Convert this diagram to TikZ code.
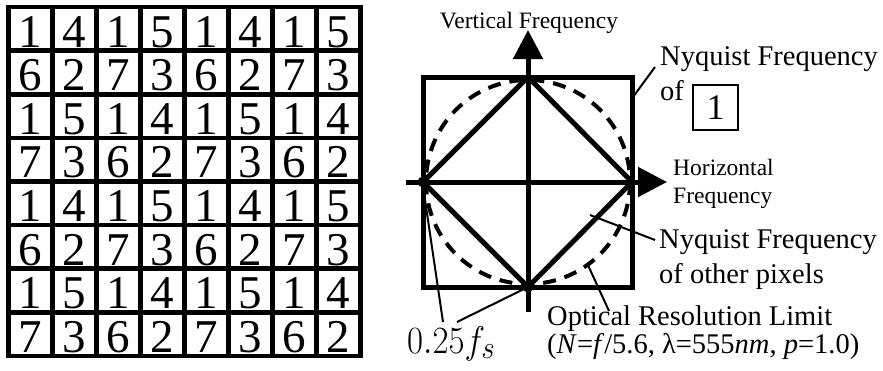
\documentclass[tikz,border=0pt]{standalone}
\usepackage{fontspec}
\setmainfont{Liberation Serif}
\usetikzlibrary{arrows.meta}
\begin{document}
\begin{tikzpicture}[x=1pt,y=-1pt,
  gridline/.style={line width=4.6pt},
  digit/.style={font=\fontsize{47}{47}\selectfont, inner sep=0pt, anchor=base},
  thickline/.style={line width=5pt},
  axisline/.style={line width=5pt, -{Triangle[length=29pt,width=29pt]}},
  circdash/.style={line width=4pt, dash pattern=on 13pt off 9pt},
  lbl/.style={font=\fontsize{28.5}{30}\selectfont, inner sep=0pt, anchor=base west},
  smalllbl/.style={font=\fontsize{23.5}{25}\selectfont, inner sep=0pt, anchor=base west},
  leader/.style={line width=2pt},
]
\useasboundingbox (0,0) rectangle (883,370);
% grid
\draw[gridline] (8.5,7) rectangle (360.5,356);
\foreach \i in {1,...,7} {
  \draw[gridline] ({8.5+44*\i},7) -- ({8.5+44*\i},356);
  \draw[gridline] (8.5,{7+43.625*\i}) -- (360.5,{7+43.625*\i});
}
\foreach \row [count=\r from 0] in {{1,4,1,5,1,4,1,5},{6,2,7,3,6,2,7,3},{1,5,1,4,1,5,1,4},{7,3,6,2,7,3,6,2},{1,4,1,5,1,4,1,5},{6,2,7,3,6,2,7,3},{1,5,1,4,1,5,1,4},{7,3,6,2,7,3,6,2}} {
  \foreach \d [count=\c from 0] in \row {
    \node[digit] (d\r\c) at ({8.5+44*\c+22},{7+43.625*\r+40}) {\d};
  }
}
% frequency diagram
\coordinate (C) at (528,182);
\coordinate (T) at (528,77);
\coordinate (R) at (632,182);
\coordinate (B) at (528,287);
\coordinate (L) at (423,182);
\draw[thickline] (423,77) rectangle (632,287);
\draw[circdash] (C) circle[radius=102];
\draw[thickline, line join=miter] (T) -- (R) -- (B) -- (L) -- cycle;
\coordinate (vs) at (528,312);
\coordinate (ve) at (528,30);
\coordinate (hs) at (406,182);
\coordinate (he) at (667,182);
\draw[axisline] (vs) -- (ve);
\draw[axisline] (hs) -- (he);
\fill (L) circle[radius=5.5];
\fill (B) circle[radius=5.5];
% labels
\node[smalllbl, anchor=base] (vf) at (529,28) {Vertical Frequency};
\node[lbl] (nq1) at (660,65) {Nyquist Frequency};
\node[lbl] (of1) at (660,100) {of};
\node[draw, line width=1.3pt, minimum size=45pt, inner sep=0pt, font=\fontsize{36}{36}\selectfont] (one) at (715.5,107.5) {1};
\node[smalllbl] (hz1) at (673,175) {Horizontal};
\node[smalllbl] (hz2) at (673,203) {Frequency};
\node[lbl] (nq2) at (659,248) {Nyquist Frequency};
\node[lbl] (nq3) at (659,283) {of other pixels};
\node[lbl] (orl1) at (547,325) {Optical Resolution Limit};
\node[lbl] (orl2) at (547,353) {(\textit{N}=\textit{f}/5.6, λ=555\textit{nm}, \textit{p}=1.0)};
\node[inner sep=0pt, anchor=base west, font=\fontsize{24.88}{30}\selectfont] (fs) at (407,353) {\scalebox{1.4}[1.55]{$0.25f_s$}};
% leaders
\coordinate (a1) at (633,97);
\coordinate (a2) at (655,67);
\draw[leader] (a1) -- (a2);
\coordinate (b1) at (590,215);
\coordinate (b2) at (655,240);
\draw[leader] (b1) -- (b2);
\coordinate (c1) at (587,263);
\coordinate (c2) at (609,311);
\draw[leader] (c1) -- (c2);
\coordinate (e1) at (424,193);
\coordinate (e2) at (443,322);
\draw[leader] (e1) -- (e2);
\coordinate (g2) at (457,322);
\draw[leader] (B) -- (g2);
\end{tikzpicture}
\end{document}
